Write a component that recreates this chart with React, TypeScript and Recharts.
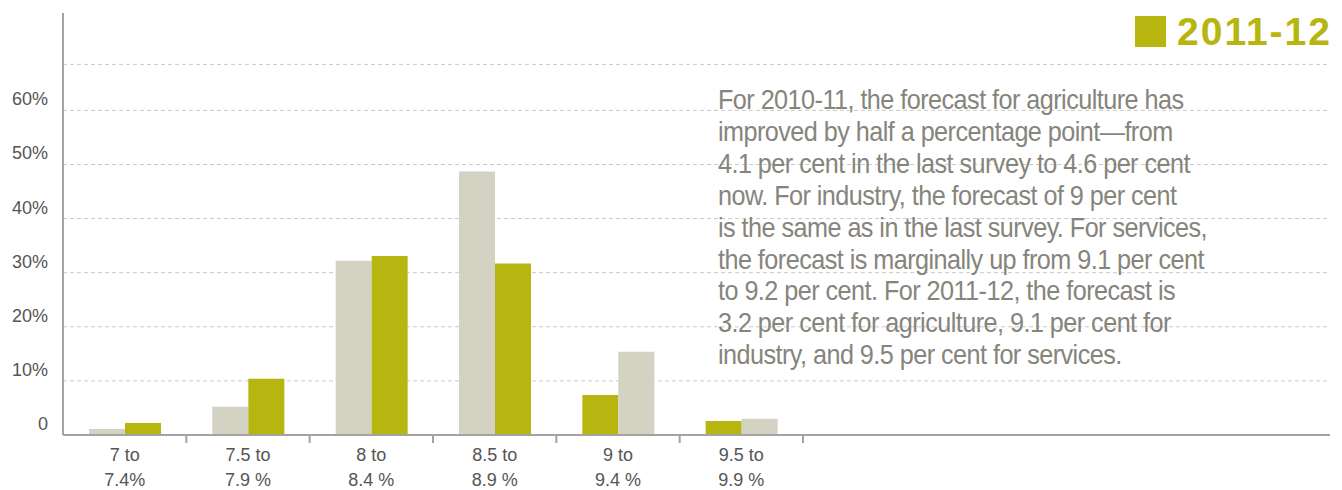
import React from "react";
import {
  BarChart,
  Bar,
  XAxis,
  YAxis,
  CartesianGrid,
  Cell,
} from "recharts";

const categories = [
  "7 to|7.4%",
  "7.5 to|7.9 %",
  "8 to|8.4 %",
  "8.5 to|8.9 %",
  "9 to|9.4 %",
  "9.5 to|9.9 %",
];
// 2010-11 (grey) and 2011-12 (olive) shares of respondents, in per cent
const prevYear = [1.1, 5.2, 32.2, 48.7, 15.4, 3.0];
const currYear = [2.2, 10.4, 33.1, 31.7, 7.4, 2.6];
// in the last two groups the olive bar is drawn first
const oliveFirst = [false, false, false, false, true, true];
const yTicks = [0, 10, 20, 30, 40, 50, 60, 68.5];

const OLIVE = "#b7b50f";
const GREY = "#d4d2c3";

const note =
  "For 2010-11, the forecast for agriculture has|improved by half a percentage point\u2014from|4.1 per cent in the last survey to 4.6 per cent|now. For industry, the forecast of 9 per cent|is the same as in the last survey. For services,|the forecast is marginally up from 9.1 per cent|to 9.2 per cent. For 2011-12, the forecast is|3.2 per cent for agriculture, 9.1 per cent for|industry, and 9.5 per cent for services.";

const data = categories.map((name, i) => ({
  name,
  left: oliveFirst[i] ? currYear[i] : prevYear[i],
  right: oliveFirst[i] ? prevYear[i] : currYear[i],
  leftColor: oliveFirst[i] ? OLIVE : GREY,
  rightColor: oliveFirst[i] ? GREY : OLIVE,
}));

const font = "'Liberation Sans', Arial, sans-serif";

function XTick(props: any) {
  const { x, y, payload } = props;
  const lines = String(payload.value).split("|");
  const half = payload.offset || 0;
  return (
    <g>
      <line x1={x + half} x2={x + half} y1={y} y2={y + 8} stroke="#a3a3a3" strokeWidth={2} />
      {lines.map((t, i) => (
        <text
          key={i}
          x={x}
          y={y + 20 + i * 25}
          textAnchor="middle"
          dominantBaseline="central"
          fontSize={18}
          fontFamily={font}
          fill="#555"
        >
          {t}
        </text>
      ))}
    </g>
  );
}

function YTick(props: any) {
  const { x, y, payload } = props;
  if (payload.value > 60) return null;
  return (
    <text
      x={x}
      y={y - 11}
      textAnchor="end"
      dominantBaseline="central"
      fontSize={18}
      fontFamily={font}
      fill="#555"
    >
      {payload.value === 0 ? "0" : `${payload.value}%`}
    </text>
  );
}

// skip the line that would sit on the plot's top edge
function GridLine(p: any) {
  if (Math.abs(p.y1 - p.y) < 1) return <g key={p.key} />;
  return (
    <line
      key={p.key}
      x1={p.x1}
      x2={p.x2}
      y1={p.y1}
      y2={p.y2}
      stroke="#c9c9c9"
      strokeDasharray="4 3"
    />
  );
}

export default function App() {
  return (
    <div style={{ position: "absolute", left: 0, top: 0, width: 1342, height: 490, background: "#fff" }}>
      <BarChart
        width={1342}
        height={490}
        data={data}
        margin={{ top: 13, right: 12, bottom: 0, left: 0 }}
        barGap={0}
        barSize={36}
      >
        <CartesianGrid vertical={false} horizontal={GridLine} />
        <XAxis
          dataKey="name"
          height={55}
          padding={{ left: 0, right: 527 }}
          axisLine={{ stroke: "#a3a3a3", strokeWidth: 2 }}
          tickLine={false}
          tickSize={0}
          tickMargin={0}
          tick={<XTick />}
          interval={0}
        />
        <YAxis
          width={63}
          domain={[0, 78]}
          ticks={yTicks}
          axisLine={{ stroke: "#a3a3a3", strokeWidth: 2 }}
          tickLine={false}
          tickSize={0}
          tickMargin={15}
          tick={<YTick />}
          interval={0}
        />
        <Bar dataKey="left" isAnimationActive={false}>
          {data.map((d, i) => (
            <Cell key={`l-${i}`} fill={d.leftColor} />
          ))}
        </Bar>
        <Bar dataKey="right" isAnimationActive={false}>
          {data.map((d, i) => (
            <Cell key={`r-${i}`} fill={d.rightColor} />
          ))}
        </Bar>
      </BarChart>
      <div
        style={{
          position: "absolute",
          right: 12,
          top: 16,
          display: "flex",
          alignItems: "center",
          fontFamily: font,
        }}
      >
        <div style={{ width: 31, height: 31, background: OLIVE, marginRight: 11 }} />
        <span
          style={{
            color: OLIVE,
            fontSize: 39,
            fontWeight: "bold",
            lineHeight: "31px",
            letterSpacing: 2,
            marginRight: -2,
          }}
        >
          2011-12
        </span>
      </div>
      <div
        style={{
          position: "absolute",
          left: 718,
          top: 84,
          fontFamily: font,
          fontSize: 28,
          lineHeight: "31.9px",
          color: "#85857b",
          whiteSpace: "pre",
          letterSpacing: -0.6,
          transform: "scaleX(0.9)",
          transformOrigin: "left top",
        }}
      >
        {note.split("|").map((l, i) => (
          <div key={i}>{l}</div>
        ))}
      </div>
    </div>
  );
}
